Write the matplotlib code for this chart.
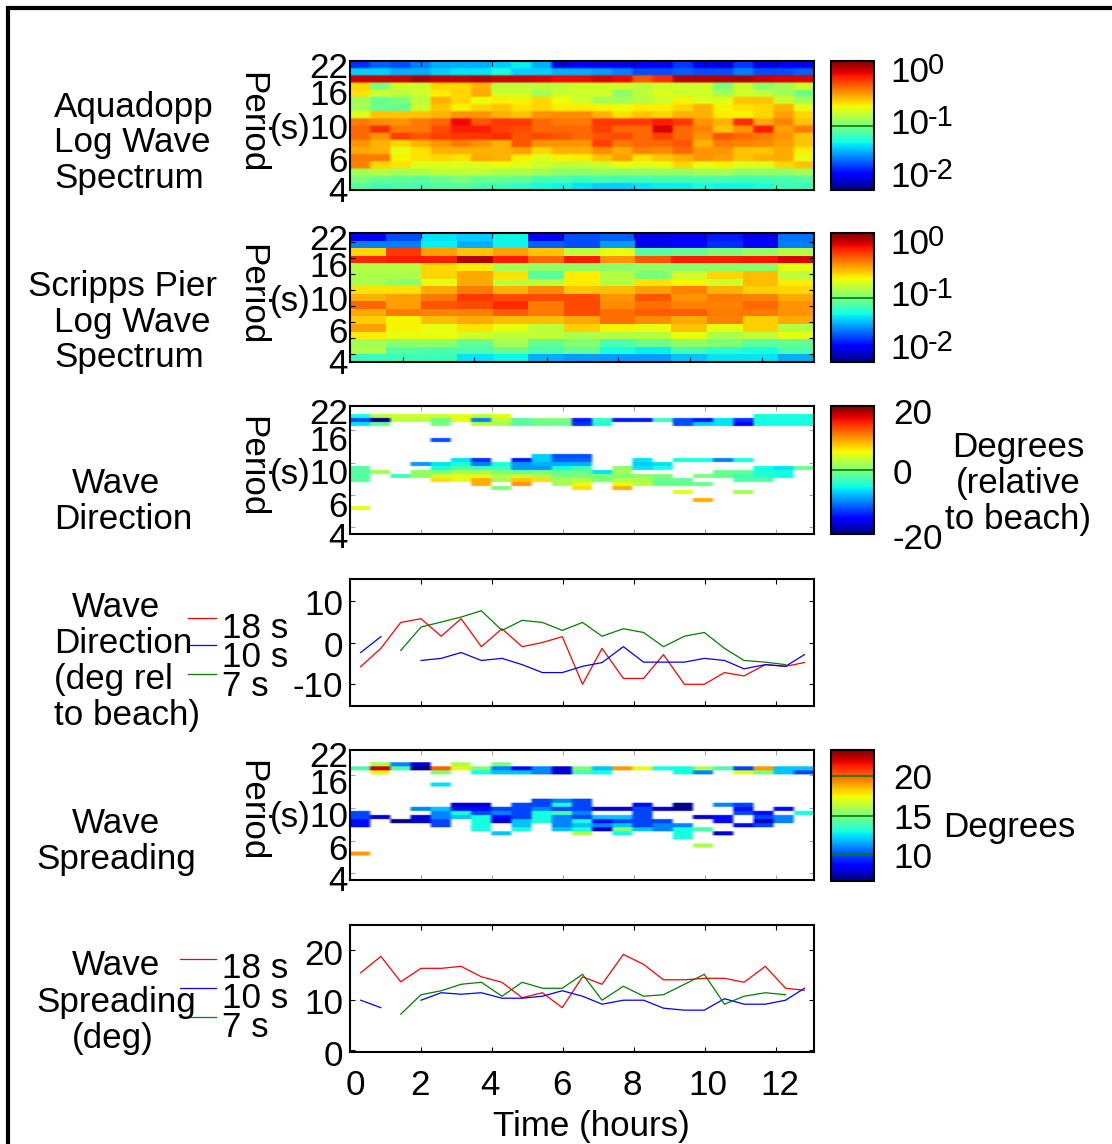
import numpy as np
import matplotlib
matplotlib.use('Agg')
import matplotlib.pyplot as plt
from matplotlib.colors import LogNorm, Normalize
from matplotlib.lines import Line2D
from matplotlib.patches import Rectangle

plt.rcParams['font.family'] = ['Liberation Sans', 'DejaVu Sans']

W, H = 1112, 1144
n = np.nan

# colour position (0-1 along the 10^-2 .. 10^0 bar), top row first
aqua_pos = [
    [.17,.22,.2,.25,.3,.3,.3,.33,.36,.3,.1,.12,.1,.1,.12,.1,.18,.1,.08,.18,.09,.13,.1],
    [.33,.33,.3,.3,.33,.35,.35,.38,.33,.33,.3,.3,.28,.25,.2,.2,.22,.2,.2,.25,.2,.2,.22],
    [.93,.93,.93,.96,.94,.94,.95,.93,.93,.92,.9,.9,.92,.9,.82,.86,.95,.95,.95,.96,.93,.92,.92],
    [.68,.5,.6,.6,.68,.68,.72,.58,.58,.58,.58,.6,.6,.6,.58,.6,.6,.6,.5,.6,.52,.55,.6],
    [.67,.6,.58,.6,.66,.68,.73,.6,.6,.55,.6,.6,.6,.52,.58,.62,.6,.6,.55,.6,.58,.55,.48],
    [.55,.48,.5,.58,.72,.68,.64,.66,.65,.68,.64,.6,.55,.55,.57,.6,.65,.62,.62,.7,.7,.6,.55],
    [.55,.48,.47,.6,.7,.65,.68,.7,.67,.68,.66,.66,.65,.64,.66,.66,.68,.72,.65,.67,.68,.72,.63],
    [.62,.7,.7,.7,.72,.75,.75,.72,.7,.75,.76,.76,.72,.67,.7,.68,.72,.72,.66,.65,.68,.74,.68],
    [.78,.76,.75,.78,.8,.9,.82,.85,.85,.8,.78,.78,.85,.85,.85,.88,.85,.75,.72,.86,.73,.77,.7],
    [.8,.86,.78,.78,.83,.88,.88,.84,.83,.8,.8,.8,.84,.8,.8,.92,.8,.77,.7,.75,.88,.74,.78],
    [.8,.75,.84,.82,.84,.85,.85,.86,.82,.83,.82,.8,.82,.83,.8,.84,.8,.75,.82,.8,.78,.75,.7],
    [.75,.72,.68,.72,.75,.78,.75,.72,.82,.75,.75,.75,.84,.78,.8,.8,.82,.72,.78,.77,.76,.74,.7],
    [.73,.72,.63,.67,.72,.72,.72,.72,.74,.68,.72,.72,.76,.73,.77,.76,.8,.75,.75,.7,.7,.73,.66],
    [.78,.78,.65,.67,.68,.67,.73,.72,.66,.62,.65,.66,.7,.74,.67,.7,.72,.75,.74,.7,.72,.73,.63],
    [.77,.68,.67,.62,.62,.62,.62,.64,.62,.6,.58,.58,.6,.63,.62,.63,.68,.63,.65,.62,.62,.68,.7],
    [.55,.57,.55,.56,.58,.58,.58,.56,.56,.55,.52,.52,.53,.52,.53,.53,.53,.55,.55,.52,.53,.52,.55],
    [.5,.48,.47,.46,.48,.5,.48,.48,.47,.44,.44,.42,.44,.43,.43,.44,.44,.44,.44,.43,.43,.44,.45],
    [.45,.42,.44,.44,.45,.45,.43,.42,.4,.38,.37,.35,.33,.33,.35,.36,.36,.38,.37,.37,.38,.42,.42],
]

pier_pos = [
    [.12,.2,.35,.33,.37,.13,.2,.22,.1,.12,.15,.1,.24],
    [.25,.25,.36,.3,.37,.22,.2,.28,.1,.13,.17,.12,.25],
    [.68,.85,.74,.7,.74,.7,.58,.63,.45,.47,.5,.53,.57],
    [.87,.88,.88,.95,.88,.8,.88,.75,.82,.88,.88,.89,.92],
    [.57,.57,.68,.66,.55,.53,.53,.52,.53,.52,.52,.52,.63],
    [.56,.56,.68,.73,.67,.46,.66,.57,.5,.6,.68,.71,.58],
    [.55,.52,.63,.73,.58,.58,.66,.57,.67,.65,.6,.71,.66],
    [.67,.67,.73,.78,.72,.76,.7,.71,.74,.77,.72,.69,.68],
    [.72,.74,.78,.85,.83,.83,.83,.75,.82,.75,.78,.77,.73],
    [.8,.74,.82,.83,.86,.78,.83,.76,.79,.77,.77,.8,.75],
    [.73,.78,.77,.77,.81,.78,.83,.79,.81,.81,.78,.78,.75],
    [.69,.65,.71,.73,.71,.71,.73,.79,.76,.73,.77,.69,.73],
    [.74,.65,.63,.67,.63,.58,.69,.65,.63,.7,.63,.69,.57],
    [.66,.63,.63,.6,.58,.58,.56,.57,.57,.63,.56,.58,.63],
    [.55,.52,.52,.47,.55,.47,.51,.44,.48,.52,.5,.46,.47],
    [.56,.45,.44,.44,.47,.44,.47,.38,.36,.43,.4,.38,.44],
    [.42,.42,.42,.35,.37,.3,.28,.28,.28,.32,.35,.35,.3],
]

# wave direction (deg), only rows that hold data; row number counted from the top of 32
dir_rows = [2, 3, 4, 8, 12, 13, 14, 15, 16, 17, 18, 19, 20, 21, 23, 25]
dir_vals = [
    [-5,3,4,4,4,5,3,5,n,n,n,n,n,n,n,n,n,n,n,n,-5,-5,-5],
    [-12,-19,3,3,-1,5,-10,3,-2,0,0,-14,-3,-14,-14,-3,-12,-14,-6,-13,-5,-5,-5],
    [-6,-1,n,n,0,n,3,2,-2,-1,-1,-13,-5,n,n,n,-12,-7,-6,-15,-5,-5,-5],
    [n,n,n,n,-12,n,n,n,n,n,n,n,n,n,n,n,n,n,n,n,n,n,n],
    [n,n,n,n,n,n,n,n,n,-7,-12,-12,n,n,n,n,n,n,n,n,n,n,n],
    [n,n,n,n,n,-6,-13,n,-14,-7,-11,-11,n,n,-6,n,-5,-5,-10,-5,n,n,n],
    [n,n,n,-9,-6,-5,-10,-5,-9,-8,-8,-8,n,n,-7,-6,n,n,n,n,n,n,n],
    [-2,n,n,n,-5,-2,-3,-3,-9,-9,-5,-3,n,1,-6,-5,n,n,n,n,-5,-6,-1],
    [-2,2,n,1,0,2,2,0,-1,0,-1,-1,-6,2,n,n,n,n,-1,-1,-5,-5,n],
    [-2,n,-3,1,4,5,5,3,4,2,0,0,0,0,1,0,n,0,-1,-3,-4,-5,n],
    [-2,n,n,n,7,5,9,2,8,7,2,3,0,3,2,-1,-1,n,n,-2,-2,n,n],
    [n,n,n,n,n,n,9,n,10,n,2,5,n,5,3,-1,-1,-1,n,n,n,n,n],
    [n,n,n,n,n,n,n,0,n,n,n,7,n,9,n,n,n,n,n,n,n,n,n],
    [n,n,n,n,n,n,n,n,n,n,n,n,n,n,n,n,5,n,n,2,n,n,n],
    [n,n,n,n,n,n,n,n,n,n,n,n,n,n,n,n,n,9,n,n,n,n,n],
    [5,n,n,n,n,n,n,n,n,n,n,n,n,n,n,n,n,n,n,n,n,n,n],
]

# wave spreading (deg)
spr_rows = [3, 4, 5, 8, 12, 13, 14, 15, 16, 17, 18, 19, 20, 21, 23, 25]
spr_vals = [
    [n,16,11,8,n,16,n,15,n,n,n,n,n,n,n,n,n,n,n,n,n,n,n],
    [14,22,14,7,20,17,15,11,9,11,8,15,12,19,17,13,13,16,14,10,19,12,12],
    [n,17,n,n,15,n,13,12,12,11,8,14,13,n,n,n,13,11,n,17,15,12,10],
    [n,n,n,n,12.5,n,n,n,n,n,n,n,n,n,n,n,n,n,n,n,n,n,n],
    [n,n,n,n,n,n,n,n,n,10,11,10,n,n,n,n,n,n,n,n,n,n,n],
    [n,n,n,n,n,8,8,n,10,10,13,10,n,n,9,n,7,n,11,10,n,n,n],
    [n,n,n,11,12,9,9,10,10,11,10,10,8,8,10,8,7,n,n,9,n,9,n],
    [10,n,n,n,11,13,10,11,10,13,14,11,n,n,10,n,n,n,n,10,9,n,13],
    [10,8,n,8,11,12,13,9,10,13,11,10,12,12,10,n,n,8,9,n,10,11,n],
    [9,n,7,8,10,n,13,8,12,13,11,13,9,10,10,10,n,n,9,n,8,11,n],
    [9,n,n,n,10,n,13,n,12,n,11,12,11,12,10,11,11,n,n,9,10,n,n],
    [n,n,n,n,n,n,13,n,13,n,12,13,8,15,12,11,13,14,n,n,n,n,n],
    [n,n,n,n,n,n,n,12,n,n,n,16,n,13,n,n,13,n,8,n,n,n,n],
    [n,n,n,n,n,n,n,n,n,n,n,n,n,n,n,n,13,n,n,n,n,n,n],
    [n,n,n,n,n,n,n,n,n,n,n,n,n,n,n,n,n,16,n,n,n,n,n],
    [19,n,n,n,n,n,n,n,n,n,n,n,n,n,n,n,n,n,n,n,n,n,n],
]

hours = [0.3,0.87,1.43,2.0,2.57,3.13,3.7,4.28,4.85,5.42,5.98,6.55,7.1,7.7,8.27,
         8.83,9.42,9.98,10.55,11.1,11.7,12.27,12.8]

dir18 = [-5.8,-1.4,4.8,5.7,1.5,5.7,-1,3.3,-1,0,1.4,-10,-1.4,-8.6,-8.6,-2.9,-10,-10,-7.2,-8,-5.3,-5.7,-4.8]
dir10 = [-2.4,1.4,n,-4.3,-3.8,-2.4,-4.3,-3.8,-5.3,-7.2,-7.2,-5.7,-4.8,-1,-4.7,-4.7,-4.7,-3.8,-4.3,-6.3,-5.3,-5.7,-2.9]
dir7 = [n,n,-1.9,3.7,4.9,6.1,7.6,2.9,5.3,4.8,2.9,4.8,1.5,3.3,2.4,-1,1.5,2.4,-1.4,-4.3,-4.7,-5.3,n]

spr18 = [15.5,18.8,13.7,16.4,16.4,16.8,14.7,13.6,10.5,11.5,8.5,14.7,13.2,19.2,17.2,14.1,14.1,14.4,14.4,13.6,16.8,12.4,12]
spr10 = [10,8.5,n,10,11.5,11.2,11.5,10.4,10.4,10.8,11.9,10.8,9.2,10,10,8.4,8,8,10.3,9.2,9.2,10,12.4]
spr7 = [n,n,7.2,11.1,11.9,13.2,13.6,10.8,13.6,12.4,12.4,15.2,10,12.8,10.8,11.1,13.2,15.2,9.2,10.8,11.5,11.1,n]

period_labels = ['22', '16', '10', '6', '4']
xtick_vals = [2, 4, 6, 8, 10, 12]
xlim = (0, 13.07)
FS = 25.2


def fx(x):
    return x / W


def fy(y):
    return 1 - y / H


def put(x, y, s, ha='left', size=FS):
    # y is the middle of the digits in picture pixels
    fig.text(fx(x), fy(y + 12), s, ha=ha, va='baseline', fontsize=size, color='black')


def add_axes(x0, y0, x1, y1):
    return fig.add_axes([fx(x0), fy(y1), (x1 - x0) / W, (y1 - y0) / H])


def style_ax(ax):
    for s in ax.spines.values():
        s.set_linewidth(1.5)
    ax.set_xlim(*xlim)
    ax.set_xticks(xtick_vals)
    ax.set_xticklabels([])
    ax.tick_params(axis='both', direction='in', length=3.5, width=0.8,
                   top=True, right=True, labelleft=False, labelbottom=False)


def add_cbar(im, y0, y1, ticks):
    cax = add_axes(831, y0, 874, y1)
    cb = fig.colorbar(im, cax=cax)
    cb.minorticks_off()
    cb.set_ticks(ticks)
    cb.ax.tick_params(direction='in', length=31, width=1.2, color='#0a7a0a',
                      labelright=False, right=True)
    cb.outline.set_linewidth(1.5)
    return cb


def soften(grid):
    # the original is a small bitmap enlarged: blocks with slightly blurred edges
    return np.repeat(np.repeat(grid, 3, axis=0), 5, axis=1)


def sparse_grid(rows, vals):
    grid = np.full((32, 23), np.nan)
    for r, v in zip(rows, vals):
        grid[r] = v
    return np.ma.masked_invalid(soften(grid))


def period_text(y_lab, y_s, ys):
    fig.text(fx(252), fy(y_lab), 'Period', rotation=270, ha='center', va='center', fontsize=FS)
    put(270, y_s, '(s)')
    for lab, y in zip(period_labels, ys):
        put(348, y, lab, ha='right')


def sup_label(x, y, exp):
    put(x, y, '10')
    put(x + 38, y - 8, exp, size=21)


def line_legend(x0, ys, tys):
    for c, y, ty, lab in zip(['red', 'blue', 'green'], ys, tys, ['18 s', '10 s', '7 s']):
        fig.add_artist(Line2D([fx(x0), fx(216)], [fy(y), fy(y)], color=c, lw=0.9))
        put(222, ty, lab)


fig = plt.figure(figsize=(W / 100, H / 100), dpi=100)

jet = plt.get_cmap('jet').copy()
jet.set_bad('white')

# outer frame, only its top and left edges fall inside the picture
fig.add_artist(Rectangle((fx(8), fy(H + 20)), (W + 20 - 8) / W, (H + 20 - 8) / H, transform=fig.transFigure,
                         fill=False, ec='black', lw=3.0))

# panel 1
ax1 = add_axes(350, 61, 814, 190)
aqua = 10 ** (-2 + 2 * np.array(aqua_pos))
im1 = ax1.imshow(soften(aqua), aspect='auto', cmap='jet', norm=LogNorm(1e-2, 1), extent=(*xlim, 0, 18),
                 interpolation='bilinear', interpolation_stage='rgba')
style_ax(ax1)
ax1.set_yticks([])
for t in ax1.xaxis.get_major_ticks():
    t.tick1line.set_color('#a0c0a0')
add_cbar(im1, 61, 190, [0.1])
period_text(123, 127, [66, 93, 127, 160, 190])
sup_label(890, 70, '0')
sup_label(890, 122, '-1')
sup_label(890, 175, '-2')
for y, s, x in [(105, 'Aquadopp', 54), (140, 'Log Wave', 54), (176, 'Spectrum', 54)]:
    put(x, y, s)

# panel 2
ax2 = add_axes(350, 233, 814, 362)
pier = 10 ** (-2 + 2 * np.array(pier_pos))
im2 = ax2.imshow(pier, aspect='auto', cmap='jet', norm=LogNorm(1e-2, 1), extent=(*xlim, 0.28, 16.72),
                 interpolation='nearest')
style_ax(ax2)
ax2.set_xticks([1.48, 3.5, 5.56, 7.55, 9.58, 11.61])
ax2.tick_params(axis='x', top=False)
sec = ax2.secondary_xaxis('top')
sec.set_xticks(xtick_vals)
sec.set_xticklabels([])
sec.tick_params(direction='in', length=3.5, width=0.8)
sec.spines['top'].set_visible(False)
ax2.set_yticks([1.3, 3.34, 5.38, 7.42, 9.46, 11.5, 13.54, 15.58])
ax2.set_ylim(0.28, 16.72)
add_cbar(im2, 233, 362, [0.1])
period_text(295, 299, [238, 265, 299, 331, 362])
sup_label(890, 242, '0')
sup_label(890, 294, '-1')
sup_label(890, 347, '-2')
for y, s, x in [(284, 'Scripps Pier', 28), (320, 'Log Wave', 54), (355, 'Spectrum', 54)]:
    put(x, y, s)

# panel 3
ax3 = add_axes(350, 406, 814, 534)
im3 = ax3.imshow(sparse_grid(dir_rows, dir_vals), aspect='auto', cmap=jet, norm=Normalize(-20, 20),
                 extent=(*xlim, 0, 32), interpolation='bilinear', interpolation_stage='rgba')
style_ax(ax3)
ax3.set_yticks([1.7, 9.7, 17.8, 25.9])
ax3.set_ylim(0, 32)
ax3.tick_params(color='0.65')
add_cbar(im3, 406, 534, [0])
period_text(467, 472, [412, 439, 472, 505, 536])
put(893, 412, '20')
put(893, 472, '0')
put(893, 537, '-20')
put(1018, 445, 'Degrees', ha='center')
put(1018, 481, '(relative', ha='center')
put(1018, 517, 'to beach)', ha='center')
put(72, 481, 'Wave')
put(54, 517, 'Direction')

# panel 4
ax4 = add_axes(350, 579, 814, 706)
ax4.plot(hours, dir18, color='red', lw=0.9)
ax4.plot(hours, dir10, color='blue', lw=0.9)
ax4.plot(hours, dir7, color='green', lw=0.9)
style_ax(ax4)
ax4.set_ylim(-15.2, 15.2)
ax4.set_yticks([-10, 0, 10])
for lab, y in zip(['10', '0', '-10'], [603, 645, 685]):
    put(343, y, lab, ha='right')
line_legend(188, [618, 645, 674], [626, 655, 684])
for y, s, x in [(605, 'Wave', 72), (641, 'Direction', 54), (677, '(deg rel', 54), (713, 'to beach)', 54)]:
    put(x, y, s)

# panel 5
ax5 = add_axes(350, 750, 814, 880)
im5 = ax5.imshow(sparse_grid(spr_rows, spr_vals), aspect='auto', cmap=jet, norm=Normalize(6.8, 23.2),
                 extent=(*xlim, 0, 32), interpolation='bilinear', interpolation_stage='rgba')
style_ax(ax5)
ax5.set_yticks([1.7, 9.7, 17.8, 25.9])
ax5.set_ylim(0, 32)
ax5.tick_params(color='0.65')
add_cbar(im5, 750, 881, [10, 15, 20])
period_text(811, 815, [755, 782, 815, 848, 879])
put(893, 777, '20')
put(893, 817, '15')
put(893, 856, '10')
put(943, 825, 'Degrees')
put(72, 821, 'Wave')
put(36, 857, 'Spreading')

# panel 6
ax6 = add_axes(350, 925, 814, 1052)
ax6.plot(hours, spr18, color='red', lw=0.9)
ax6.plot(hours, spr10, color='blue', lw=0.9)
ax6.plot(hours, spr7, color='green', lw=0.9)
style_ax(ax6)
ax6.set_ylim(-0.4, 25.1)
ax6.set_yticks([0, 10, 20])
for lab, y in zip(['20', '10', '0'], [953, 1002, 1054]):
    put(343, y, lab, ha='right')
line_legend(180, [959, 988, 1017], [966, 996, 1025])
for y, s, x in [(963, 'Wave', 72), (1000, 'Spreading', 36), (1036, '(deg)', 72)]:
    put(x, y, s)

for lab, x in zip(['0', '2', '4', '6', '8', '10', '12'], [355, 420, 490, 562, 632, 708, 780]):
    put(x, 1083, lab, ha='center')
put(591, 1124, 'Time (hours)', ha='center')

fig.savefig('out.png', dpi=100)
